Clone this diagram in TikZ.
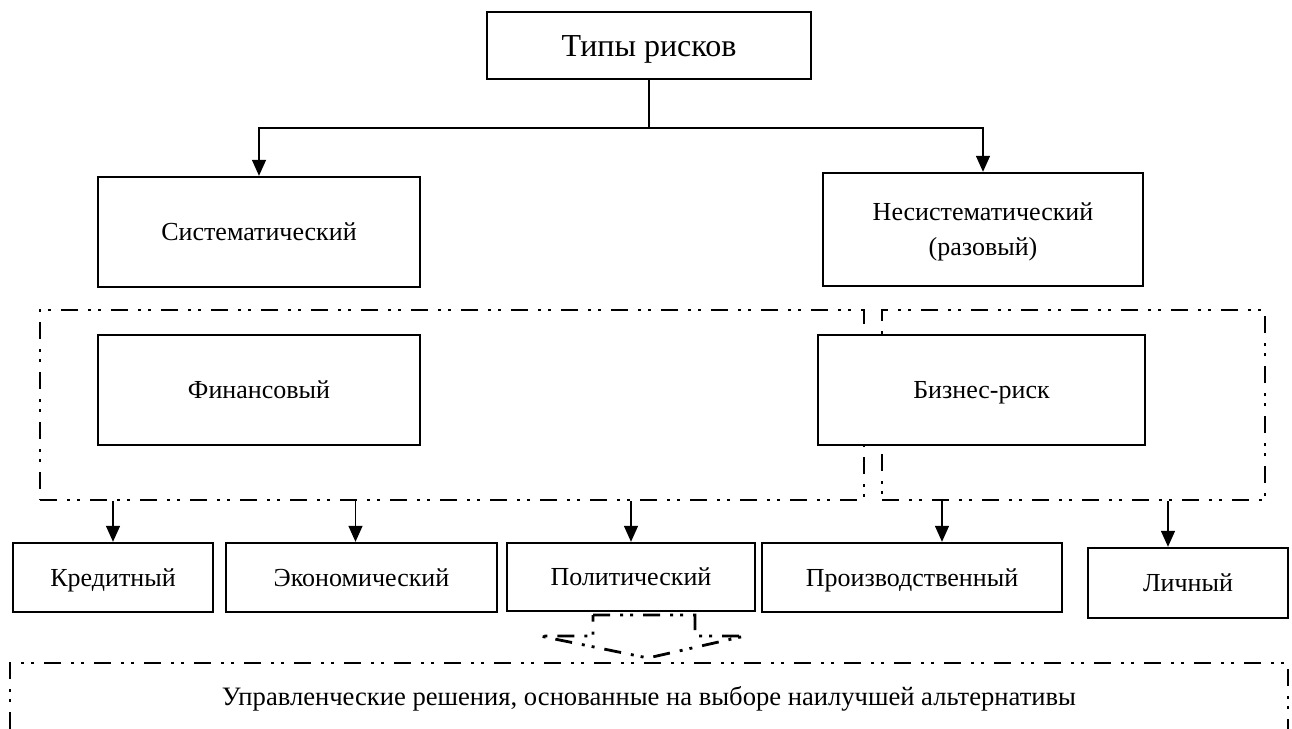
\documentclass[tikz,border=0pt]{standalone}
\usepackage{fontspec}
\setmainfont{Liberation Serif}
\usetikzlibrary{arrows.meta}

\begin{document}
\begin{tikzpicture}[x=0.5pt, y=-0.5pt,
    box/.style={draw, line width=1.2pt, fill=white, align=center,
      inner sep=0pt, text height=9pt, text depth=0.5pt,
      font=\fontsize{13}{17.5}\selectfont},
    ddline/.style={line width=1.4pt,
      dash pattern=on 8.5pt off 5pt on 1.5pt off 3.5pt on 1.5pt off 5pt},
    group/.style={draw, ddline, inner sep=0pt},
    conn/.style={line width=0.7pt, -{Triangle[length=8pt, width=7pt]}}]
  \useasboundingbox (0,0) rectangle (1292,729);
  % Top level
  \node[box, font=\fontsize{16}{19}\selectfont, text height=11pt,
    minimum width=162pt, minimum height=33.5pt] (types) at (649,45.5)
    {Типы рисков};
  \node[box, minimum width=161pt, minimum height=55pt] (sys) at (259,232)
    {Систематический};
  \node[box, text height=26.5pt, minimum width=160pt, minimum height=56.5pt]
    (unsys) at (983,229.5) {Несистематический\\(разовый)};
  % Groups
  \node[group, minimum width=412pt, minimum height=95pt] (fingrp)
    at (452,405) {};
  \node[group, minimum width=191.5pt, minimum height=95pt] (bizgrp)
    at (1073.5,405) {};
  \node[box, minimum width=161pt, minimum height=55pt] (fin) at (259,390)
    {Финансовый};
  \node[box, minimum width=163.5pt, minimum height=55pt] (biz)
    at (981.5,390) {Бизнес-риск};
  % Kinds
  \node[box, minimum width=100pt, minimum height=34.5pt] (credit)
    at (113,577.5) {Кредитный};
  \node[box, minimum width=135.5pt, minimum height=34.5pt] (econ)
    at (361.5,577.5) {Экономический};
  \node[box, minimum width=124pt, minimum height=34pt] (polit)
    at (631,577) {Политический};
  \node[box, minimum width=150pt, minimum height=34.5pt] (prod)
    at (912,577.5) {Производственный};
  \node[box, minimum width=100pt, minimum height=35pt] (person)
    at (1188,583) {Личный};
  % Connectors
  \coordinate (fork) at (types.south |- 0,128);
  \draw[line width=0.7pt] (types.south) -- (fork);
  \draw[conn] (fork) -| (sys.north);
  \draw[conn] (fork) -| (unsys.north);
  \coordinate (econin) at ([xshift=-3pt]econ.north);
  \coordinate (prodin) at ([xshift=15pt]prod.north);
  \coordinate (personin) at ([xshift=-10pt]person.north);
  \draw[conn] (fingrp.south -| credit.north) -- (credit.north);
  \draw[conn] (fingrp.south -| econin) -- (econin);
  \draw[conn] (fingrp.south -| polit.north) -- (polit.north);
  \draw[conn] (bizgrp.south -| prodin) -- (prodin);
  \draw[conn] (bizgrp.south -| personin) -- (personin);
  % Outcome arrow
  \draw[ddline] (593,615) -- (695,615) -- (695,636) -- (745,636)
    -- (648,658) -- (540,636) -- (593,636) -- cycle;
  % Bottom frame
  \draw[ddline] (10,729) |- (1288,663) -- (1288,729);
  \node[font=\fontsize{13.3}{16}\selectfont, text height=9pt,
    text depth=0.5pt] (decision) at (649,697)
    {Управленческие решения, основанные на выборе наилучшей альтернативы};
\end{tikzpicture}
\end{document}
